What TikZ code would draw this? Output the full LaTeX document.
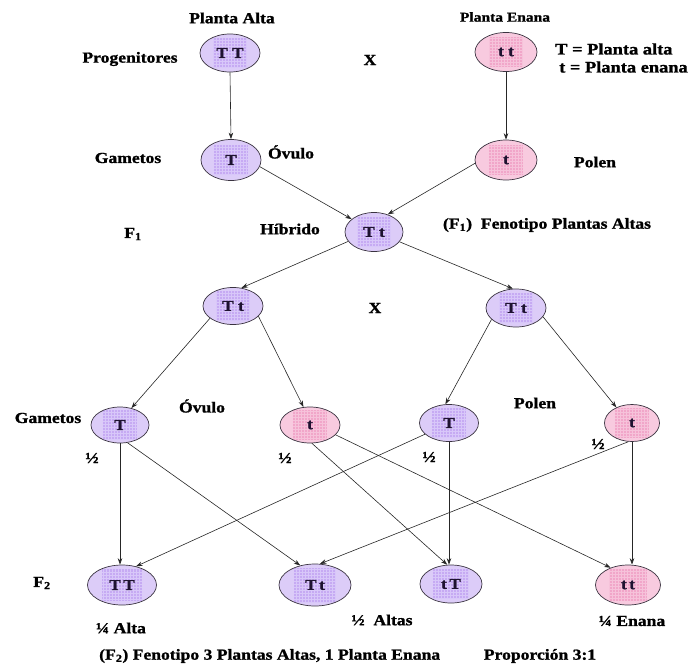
\documentclass[tikz,border=0pt]{standalone}
\usepackage{fontspec}
\setmainfont{Liberation Serif}[FakeStretch=1.15, BoldFeatures={FakeBold=1.2}]
\usetikzlibrary{shapes.geometric,arrows.meta}

% colours of the cells
\definecolor{lav}{HTML}{DCCCF8}
\definecolor{lavin}{HTML}{C6AAF3}
\definecolor{lavgrid}{HTML}{D8C7F9}
\definecolor{pnk}{HTML}{F8CADF}
\definecolor{pnkin}{HTML}{F1A6C9}
\definecolor{pnkgrid}{HTML}{F6C2DA}
\definecolor{rim}{HTML}{3A3340}
\definecolor{ink}{HTML}{1E1230}

\tikzset{
  inner w/.store in=\gridw, inner h/.store in=\gridh,
  inner w=17pt, inner h=15pt,
  % shaded checkered square inside each cell
  gridfill/.style 2 args={path picture={
      \fill[#1] ([xshift=-\gridw,yshift=-\gridh]path picture bounding box.center)
        rectangle ([xshift=\gridw,yshift=\gridh]path picture bounding box.center);
      \draw[#2,line width=0.3pt,step=3pt]
        ([xshift=-\gridw,yshift=-\gridh]path picture bounding box.center)
        grid ([xshift=\gridw,yshift=\gridh]path picture bounding box.center);
  }},
  gene/.style={ellipse, draw=rim, line width=0.7pt, inner sep=0pt,
    font=\fontsize{15}{17}\selectfont\bfseries, text=ink},
  alto/.style={gene, fill=lav, gridfill={lavin}{lavgrid}},
  enano/.style={gene, fill=pnk, gridfill={pnkin}{pnkgrid}},
  lbl/.style={font=\fontsize{15.3}{17}\selectfont\bfseries, inner sep=0pt},
  link/.style={draw=black!85, line width=0.6pt,
    -{Stealth[length=6.5pt,width=4.5pt]}},
}

\begin{document}
\begin{tikzpicture}[x=1pt,y=-1pt]
\useasboundingbox (0,0) rectangle (688,664);

% parents
\node[alto, minimum width=60pt, minimum height=38pt] (pA) at (230,53) {T T};
\node[enano, minimum width=62pt, minimum height=39pt] (pE) at (506,52) {t t};
% parental gametes
\node[alto, minimum width=60pt, minimum height=41pt] (gA) at (231,160) {T};
\node[enano, minimum width=62pt, minimum height=40pt] (gE) at (506,160) {t};
% hybrid
\node[alto, minimum width=58pt, minimum height=39pt] (hib) at (374,232) {T t};
% F1 crossed
\node[alto, minimum width=60pt, minimum height=37pt] (fa) at (233,306) {T t};
\node[alto, minimum width=60pt, minimum height=38pt] (fb) at (516,308) {T t};
% F1 gametes
\node[alto, minimum width=58pt, minimum height=36pt] (g1) at (120,425) {T};
\node[enano, minimum width=60pt, minimum height=36pt] (g2) at (310,425) {t};
\node[alto, minimum width=59pt, minimum height=37pt] (g3) at (449,423) {T};
\node[enano, minimum width=55pt, minimum height=37pt] (g4) at (632,423) {t};
% F2
\node[alto, minimum width=69pt, minimum height=40pt, inner w=20pt, inner h=16pt] (r1) at (122,585) {T\,T};
\node[alto, minimum width=72pt, minimum height=42pt, inner w=21pt, inner h=17pt] (r2) at (315,585) {T\,t};
\node[alto, minimum width=62pt, minimum height=38pt, inner w=18pt, inner h=15pt] (r3) at (451,584) {t\,T};
\node[enano, minimum width=65pt, minimum height=40pt, inner w=19pt, inner h=16pt] (r4) at (628,585) {t\,t};

% labels
\node[lbl] (tA) at (232,18) {Planta Alta};
\node[lbl, font=\fontsize{13.5}{15}\selectfont\bfseries] (tE) at (505,17) {Planta Enana};
\node[lbl] (tProg) at (130,59) {Progenitores};
\node[lbl] (tX1) at (370,60) {X};
\node[lbl, anchor=west, font=\fontsize{16}{18}\selectfont\bfseries] (tKey1) at (555,49) {T = Planta alta};
\node[lbl, anchor=west, font=\fontsize{16}{18}\selectfont\bfseries] (tKey2) at (559,67) {t = Planta enana};
\node[lbl] (tGam1) at (128,158) {Gametos};
\node[lbl] (tOv1) at (291,152) {Óvulo};
\node[lbl] (tPol1) at (595,162) {Polen};
\node[lbl] (tF1) at (133,234) {F\textsubscript{1}};
\node[lbl] (tHib) at (290,229) {Híbrido};
\node[lbl] (tFen1) at (547,225) {(F\textsubscript{1})\ \ Fenotipo Plantas Altas};
\node[lbl] (tX2) at (375,308) {X};
\node[lbl] (tGam2) at (48,418) {Gametos};
\node[lbl] (tOv2) at (202,406) {Óvulo};
\node[lbl] (tPol2) at (535,403) {Polen};
\node[lbl] (h1) at (92,458) {½};
\node[lbl] (h2) at (285,458) {½};
\node[lbl] (h3) at (429,457) {½};
\node[lbl] (h4) at (598,444) {½};
\node[lbl] (tF2) at (42,583) {F\textsubscript{2}};
\node[lbl] (tAlta) at (121,628) {¼ Alta};
\node[lbl] (tAltas) at (382,620) {½\ \ Altas};
\node[lbl] (tEnana) at (632,621) {¼ Enana};
\node[lbl, anchor=west] (tFen2) at (99,656) {(F\textsubscript{2}) Fenotipo 3 Plantas Altas, 1 Planta Enana};
\node[lbl] (tProp) at (540,656) {Proporción 3:1};

% connectors
\draw[link] (pA.south) -- (gA.north);
\draw[link] (pE.south) -- (gE.north);
\draw[link] (gA.-13) -- (hib.150);
\draw[link] (gE.186) -- (hib.52);
\draw[link] (hib.200) -- (fa.65);
\draw[link] (hib.-21) -- (fb.99);
\draw[link] (fa.208) -- (g1.56);
\draw[link] (fa.-22) -- (g2.110);
\draw[link] (fb.205) -- (g3.101);
\draw[link] (fb.-18) -- (g4.135);
\draw[link] (g1.south) -- (g1.south |- r1.north);
\draw[link] (g1.-67) -- (r2.127);
\draw[link] (g2.-84) -- (r3.101);
\draw[link] (g2.-21) -- (r4.135);
\draw[link] (g3.205) -- (r1.53);
\draw[link] (g3.south) -- (g3.south |- r3.north);
\draw[link] (g4.-101) -- (r2.77);
\draw[link] (g4.south) -- (g4.south |- r4.north);
\end{tikzpicture}
\end{document}
